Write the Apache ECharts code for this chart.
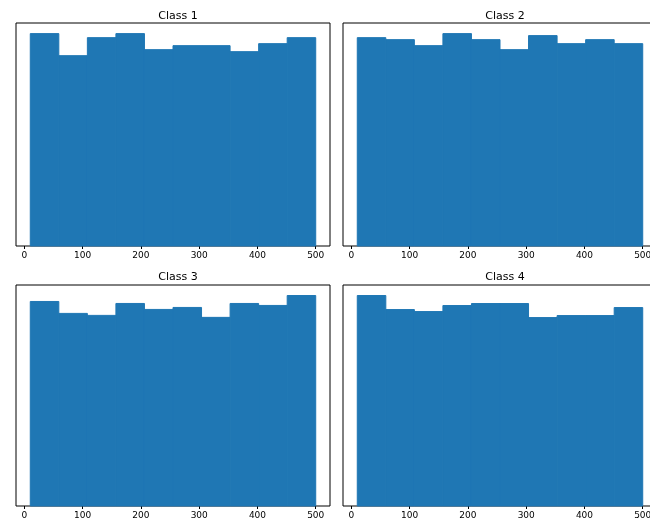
<!DOCTYPE html>
<html><head><meta charset="utf-8">
<script src="https://cdn.jsdelivr.net/npm/echarts@6/dist/echarts.min.js"></script>
<style>html,body{margin:0;padding:0;background:#fff}#c{width:650px;height:523px}</style>
</head><body><div id="c"></div>
<script>
const titles = ['Class 1', 'Class 2', 'Class 3', 'Class 4'];
const binEdges = [10, 59, 108, 157, 206, 255, 304, 353, 402, 451, 500];
const class1 = [106, 95, 104, 106, 98, 100, 100, 97, 101, 104];
const class2 = [104, 103, 100, 106, 103, 98, 105, 101, 103, 101];
const class3 = [103, 97, 96, 102, 99, 100, 95, 102, 101, 106];
const class4 = [105, 98, 97, 100, 101, 101, 94, 95, 95, 99];
const xTicks = [0, 100, 200, 300, 400, 500];

const counts = [class1, class2, class3, class4];
const grids = [
  {left: 16, top: 23, width: 314, height: 223},
  {left: 343, top: 23, width: 314, height: 223},
  {left: 16, top: 285, width: 314, height: 221},
  {left: 343, top: 285, width: 314, height: 221}
];
const titleCenters = [[173, 6], [500, 6], [173, 267], [500, 267]];

const option = {
  animation: false,
  title: titles.map((t, i) => ({
    text: t, left: titleCenters[i][0], top: titleCenters[i][1], textAlign: 'center',
    textStyle: {fontFamily: 'DejaVu Sans', fontSize: 11, fontWeight: 'normal', color: '#000'}
  })),
  grid: grids.map(g => Object.assign({show: true, borderColor: '#000', borderWidth: 1, backgroundColor: '#fff', outerBoundsMode: 'none', containLabel: false}, g)),
  xAxis: grids.map((g, i) => ({
    type: 'value', gridIndex: i, min: -14.5, max: 524.5,
    splitLine: {show: false}, axisLine: {show: false},
    axisTick: {show: true, customValues: xTicks, length: 3, lineStyle: {color: '#000'}},
    axisLabel: {customValues: xTicks, fontFamily: 'DejaVu Sans', fontSize: 9, color: '#000', margin: 5}
  })),
  yAxis: grids.map((g, i) => ({
    type: 'value', gridIndex: i, min: 0, max: Math.max(...counts[i]) * 1.05, show: false
  })),
  series: counts.map((arr, i) => ({
    type: 'custom', xAxisIndex: i, yAxisIndex: i,
    data: arr.map((c, k) => [binEdges[k], binEdges[k + 1], c]),
    encode: {x: [0, 1], y: 2},
    renderItem: function (params, api) {
      const p0 = api.coord([api.value(0), 0]);
      const p1 = api.coord([api.value(1), api.value(2)]);
      return {type: 'rect', shape: {x: p0[0], y: p1[1], width: p1[0] - p0[0], height: p0[1] - p1[1]},
        style: {fill: '#1f77b4', stroke: '#1f77b4', lineWidth: 1}};
    }
  }))
};
echarts.init(document.getElementById('c')).setOption(option);
</script></body></html>
